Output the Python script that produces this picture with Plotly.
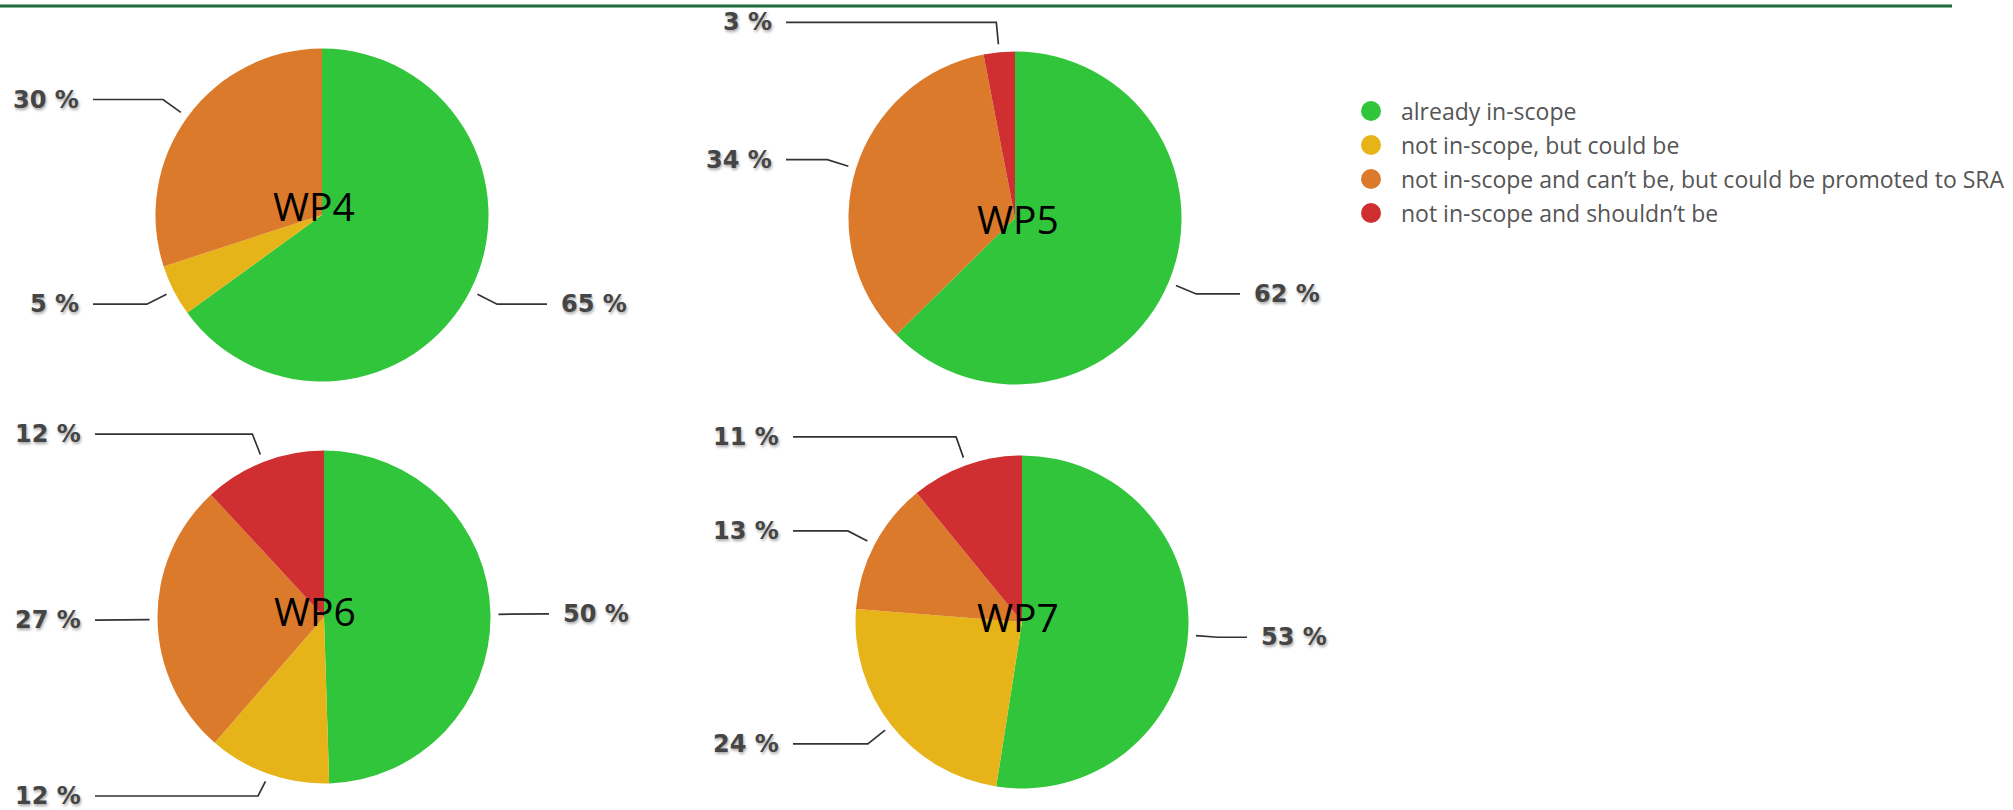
import math
import plotly.graph_objects as go

# ---------------- data ----------------
categories = [
    "already in-scope",
    "not in-scope, but could be",
    "not in-scope and can\u2019t be, but could be promoted to SRA",
    "not in-scope and shouldn\u2019t be",
]
colors = ["#30C53A", "#E6B319", "#DB7A2B", "#CF2F30"]
pie_names = ["WP4", "WP5", "WP6", "WP7"]
wp4_values = [65, 5, 30, 0]
wp5_values = [62, 0, 34, 3]
wp6_values = [50, 12, 27, 12]
wp7_values = [53, 24, 13, 11]
all_values = [wp4_values, wp5_values, wp6_values, wp7_values]

# ---------------- layout constants (pixels) ----------------
W, H = 2013, 810
R = 166.5
centers = [(322, 215), (1015, 218), (324, 617), (1022, 622)]
name_offsets = [(-8, -10), (3, 0), (-9, -7), (-4, -6)]

fig = go.Figure()

for name, vals, (cx, cy) in zip(pie_names, all_values, centers):
    dom_x = [(cx - R) / W, (cx + R) / W]
    dom_y = [(H - cy - R) / H, (H - cy + R) / H]
    fig.add_trace(go.Pie(
        labels=categories, values=vals, sort=False, direction="clockwise",
        rotation=0, marker=dict(colors=colors, line=dict(width=0)),
        textinfo="none", hoverinfo="label+percent", showlegend=False,
        domain=dict(x=dom_x, y=dom_y), name=name,
    ))

# leader lines + percentage labels (computed from slice angles)
annotations = []
for vals, (cx, cy) in zip(all_values, centers):
    total = sum(vals)
    cum = 0
    for v in vals:
        if v > 0:
            th = 2 * math.pi * (cum + v / 2) / total
            s, c = math.sin(th), math.cos(th)
            p1 = (cx + (R + 8) * s, cy - (R + 8) * c)
            p2 = (cx + (R + 30) * s, min(cy - (R + 30) * c, H - 14))
            if s >= 0:
                p3 = (cx + 225, p2[1]); lx = cx + 237; anchor = "left"
            else:
                p3 = (cx - 229, p2[1]); lx = cx - 241; anchor = "right"
            fig.add_trace(go.Scatter(
                x=[p1[0], p2[0], p3[0]], y=[p1[1], p2[1], p3[1]],
                mode="lines", line=dict(color="#333333", width=1.7),
                hoverinfo="skip", showlegend=False, xaxis="x", yaxis="y"))
            annotations.append(dict(
                x=lx, y=p3[1], xref="x", yref="y", text=f"{v} %",
                showarrow=False, xanchor=anchor, yanchor="middle",
                font=dict(family="DejaVu Sans", size=24, color="#454545",
                          weight="bold", shadow="1px 2px 3px rgba(0,0,0,0.35)")))
        cum += v

# WP names
for name, (cx, cy), (ox, oy) in zip(pie_names, centers, name_offsets):
    annotations.append(dict(
        x=cx + ox, y=cy + oy, xref="x", yref="y", text=name, showarrow=False,
        xanchor="center", yanchor="middle",
        font=dict(family="Open Sans", size=39, color="#000000")))

# legend (manual, circular markers)
leg_x, leg_y0, leg_dy = 1371, 111, 34
leg_y = [leg_y0 + i * leg_dy for i in range(len(categories))]
fig.add_trace(go.Scatter(
    x=[leg_x] * len(categories), y=leg_y, mode="markers",
    marker=dict(size=20, color=colors), hoverinfo="skip", showlegend=False,
    xaxis="x", yaxis="y"))
for cat, y in zip(categories, leg_y):
    annotations.append(dict(
        x=leg_x + 28, y=y, xref="x", yref="y", text=cat, showarrow=False,
        xanchor="left", yanchor="middle",
        font=dict(family="Open Sans", size=23, color="#555555")))

fig.update_layout(
    width=W, height=H, margin=dict(l=0, r=0, t=0, b=0),
    paper_bgcolor="white", plot_bgcolor="rgba(0,0,0,0)",
    xaxis=dict(range=[0, W], visible=False, fixedrange=True),
    yaxis=dict(range=[H, 0], visible=False, fixedrange=True),
    annotations=annotations,
    shapes=[dict(type="line", xref="paper", yref="paper",
                 x0=0, x1=1952 / W, y0=1 - 6 / H, y1=1 - 6 / H,
                 line=dict(color="#1F6B3A", width=3))],
)

fig.write_html("out.html", config={"displayModeBar": False},
               post_script="document.body.style.margin='0px';")
